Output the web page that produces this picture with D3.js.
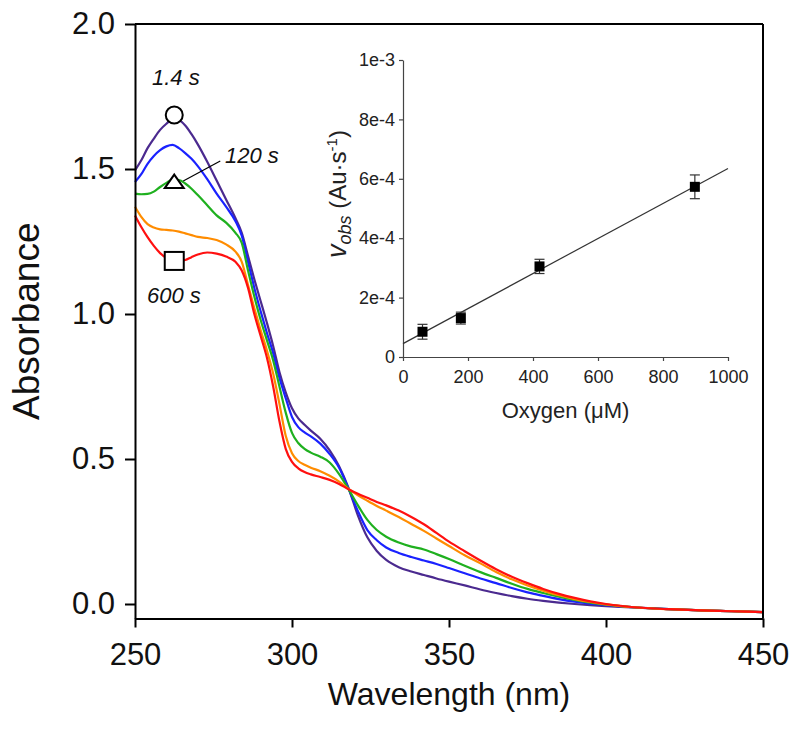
<!DOCTYPE html>
<html><head><meta charset="utf-8">
<script src="https://cdn.jsdelivr.net/npm/d3@7"></script>
<style>
body{margin:0;background:#fff}
svg{display:block}
text{font-family:"Liberation Sans",Arial,Helvetica,sans-serif}
</style>
</head><body>
<svg id="c" width="800" height="735"></svg>
<script>
// ---------- data ----------
const wavelengths = [250,252,254,256,258,260,262,264,266,268,270,273,276,279,282,284,286,288,290,292,294,296,298,300,302,304,306,309,312,315,318,321,324,327,330,334,338,342,346,350,355,360,365,370,375,380,385,390,395,400,410,420,430,440,450];
const abs_1_4s = [1.495,1.53,1.572,1.605,1.635,1.656,1.672,1.668,1.65,1.62,1.585,1.525,1.46,1.395,1.33,1.28,1.2,1.12,1.045,0.97,0.89,0.8,0.73,0.675,0.64,0.618,0.598,0.57,0.53,0.475,0.4,0.305,0.23,0.183,0.152,0.127,0.112,0.1,0.088,0.077,0.064,0.05,0.038,0.027,0.018,0.011,0.005,0.0,-0.004,-0.007,-0.013,-0.018,-0.022,-0.025,-0.028];
const abs_blue = [1.455,1.482,1.518,1.545,1.565,1.578,1.583,1.572,1.555,1.535,1.51,1.465,1.415,1.37,1.32,1.27,1.18,1.09,1.01,0.935,0.865,0.78,0.71,0.645,0.61,0.592,0.578,0.553,0.517,0.47,0.398,0.32,0.255,0.22,0.195,0.176,0.162,0.15,0.138,0.124,0.106,0.088,0.072,0.055,0.04,0.028,0.017,0.008,0.001,-0.004,-0.012,-0.018,-0.022,-0.025,-0.028];
const abs_120s = [1.415,1.413,1.414,1.422,1.438,1.452,1.463,1.462,1.45,1.432,1.41,1.375,1.34,1.315,1.28,1.245,1.15,1.06,0.98,0.91,0.84,0.75,0.66,0.59,0.555,0.535,0.522,0.508,0.488,0.448,0.396,0.34,0.29,0.255,0.232,0.212,0.198,0.188,0.172,0.155,0.132,0.11,0.09,0.07,0.052,0.038,0.025,0.014,0.005,-0.002,-0.012,-0.018,-0.022,-0.025,-0.028];
const abs_orange = [1.37,1.335,1.31,1.298,1.292,1.29,1.288,1.284,1.278,1.272,1.266,1.262,1.255,1.24,1.215,1.18,1.1,1.02,0.945,0.875,0.795,0.69,0.58,0.52,0.493,0.48,0.47,0.458,0.442,0.422,0.397,0.375,0.356,0.338,0.322,0.3,0.276,0.252,0.226,0.2,0.168,0.14,0.11,0.085,0.064,0.046,0.03,0.017,0.007,-0.001,-0.012,-0.018,-0.022,-0.025,-0.028];
const abs_600s = [1.34,1.30,1.265,1.235,1.21,1.193,1.185,1.183,1.186,1.196,1.205,1.212,1.208,1.198,1.18,1.15,1.09,1.0,0.925,0.85,0.75,0.63,0.535,0.49,0.468,0.455,0.447,0.438,0.428,0.414,0.396,0.38,0.366,0.352,0.34,0.322,0.3,0.275,0.245,0.215,0.182,0.15,0.12,0.094,0.072,0.052,0.035,0.021,0.009,0.0,-0.012,-0.018,-0.022,-0.025,-0.028];
const seriesColors = ["#4b2a8f","#1a22ff","#1fb01f","#ff8c00","#ff1010"];

const xTicks = [250,300,350,400,450];
const yTicks = [0,0.5,1.0,1.5,2.0];
const yTickLabels = ["0.0","0.5","1.0","1.5","2.0"];

// annotations (label, marker absorbance at marker wavelength)
const markerWavelength = 262.5;
const markerLabels = ["1.4 s","120 s","600 s"];
const markerAbs = [1.686,1.455,1.183];

// inset
const oxygen = [60,178,420,898];
const vobs = [8.5e-5,1.31e-4,3.05e-4,5.73e-4];
const vobsErr = [2.5e-5,2.0e-5,2.4e-5,4.0e-5];
const fitIntercept = 4.5e-5;
const fitSlope = 5.9e-7;
const insetXTicks = [0,200,400,600,800,1000];
const insetYTicks = [0,2e-4,4e-4,6e-4,8e-4,1e-3];
const insetYTickLabels = ["0","2e-4","4e-4","6e-4","8e-4","1e-3"];

// ---------- chart ----------
const svg = d3.select("#c");
const x = d3.scaleLinear().domain([250,450]).range([135,763]);
const y = d3.scaleLinear().domain([-0.05,2.0]).range([618.5,24]);

const series = [abs_1_4s,abs_blue,abs_120s,abs_orange,abs_600s];
const line = d3.line().x((d,i)=>x(wavelengths[i])).y(d=>y(d)).curve(d3.curveMonotoneX);
svg.append("g").selectAll("path").data(series).join("path")
  .attr("d", d=>line(d)).attr("fill","none")
  .attr("stroke",(d,i)=>seriesColors[i]).attr("stroke-width",2.2)
  .attr("stroke-linejoin","round");

// frame (top & right)
svg.append("line").attr("x1",x(250)).attr("x2",x(450)).attr("y1",y(2.0)).attr("y2",y(2.0)).attr("stroke","#000").attr("stroke-width",2);
svg.append("line").attr("x1",x(450)).attr("x2",x(450)).attr("y1",y(2.0)).attr("y2",y(-0.05)).attr("stroke","#000").attr("stroke-width",2);

const xAxis = svg.append("g").attr("transform",`translate(0,${y(-0.05)})`)
  .call(d3.axisBottom(x).tickValues(xTicks).tickSize(9).tickSizeOuter(0).tickPadding(15.5).tickFormat(d3.format("d")));
const yAxis = svg.append("g").attr("transform",`translate(${x(250)},0)`)
  .call(d3.axisLeft(y).tickValues(yTicks).tickSize(10).tickSizeOuter(0).tickPadding(10).tickFormat((d,i)=>yTickLabels[i]));
[xAxis,yAxis].forEach(g=>{
  g.select(".domain").attr("stroke-width",2);
  g.selectAll(".tick line").attr("stroke-width",2);
  g.selectAll(".tick text").attr("font-size",31).attr("fill","#111").attr("font-family","'Liberation Sans',Arial,sans-serif");
});

svg.append("text").attr("x",(x(250)+x(450))/2).attr("y",705).attr("text-anchor","middle")
  .attr("font-size",32).attr("fill","#111").text("Wavelength (nm)");
svg.append("text").attr("transform",`translate(38.5,${(y(2.0)+y(-0.05))/2}) rotate(-90)`).attr("text-anchor","middle")
  .attr("font-size",37).attr("fill","#111").text("Absorbance");

// markers
const mx = x(markerWavelength);
svg.append("circle").attr("cx",mx).attr("cy",y(markerAbs[0])).attr("r",8.5).attr("fill","#fff").attr("stroke","#000").attr("stroke-width",2);
const ty = y(markerAbs[1]);
svg.append("path").attr("d",`M${mx},${ty-7.5}L${mx+9.5},${ty+6}L${mx-9.5},${ty+6}Z`).attr("fill","#fff").attr("stroke","#000").attr("stroke-width",2);
svg.append("rect").attr("x",mx-9.5).attr("y",y(markerAbs[2])-9).attr("width",19).attr("height",18).attr("fill","#fff").attr("stroke","#000").attr("stroke-width",2);
svg.append("line").attr("x1",mx+9).attr("y1",ty-1).attr("x2",mx+46).attr("y2",ty-21).attr("stroke","#000").attr("stroke-width",1.2);
const annot = [[152,85],[225,163],[147,303]];
svg.append("g").selectAll("text").data(markerLabels).join("text")
  .attr("x",(d,i)=>annot[i][0]).attr("y",(d,i)=>annot[i][1])
  .attr("font-size",22).attr("font-style","italic").attr("fill","#111").text(d=>d);

// ---------- inset ----------
const xi = d3.scaleLinear().domain([0,1000]).range([403,728]);
const yi = d3.scaleLinear().domain([0,1e-3]).range([357,60]);
const ixAxis = svg.append("g").attr("transform",`translate(0,${yi(0)})`)
  .call(d3.axisBottom(xi).tickValues(insetXTicks).tickSize(4).tickSizeOuter(0).tickPadding(9).tickFormat(d3.format("d")));
const iyAxis = svg.append("g").attr("transform",`translate(${xi(0)},0)`)
  .call(d3.axisLeft(yi).tickValues(insetYTicks).tickSize(4).tickSizeOuter(0).tickPadding(4).tickFormat((d,i)=>insetYTickLabels[i]));
[ixAxis,iyAxis].forEach(g=>{
  g.select(".domain").attr("stroke","#444").attr("stroke-width",1.2);
  g.selectAll(".tick line").attr("stroke","#444").attr("stroke-width",1.2);
  g.selectAll(".tick text").attr("font-size",18).attr("fill","#222").attr("font-family","'Liberation Sans',Arial,sans-serif");
});
// fit line
svg.append("line").attr("x1",xi(0)).attr("y1",yi(fitIntercept)).attr("x2",xi(1000)).attr("y2",yi(fitIntercept+fitSlope*1000))
  .attr("stroke","#333").attr("stroke-width",1.2);
// error bars
const eb = svg.append("g").attr("stroke","#333").attr("stroke-width",1.2);
oxygen.forEach((o,i)=>{
  const cx = xi(o), y1 = yi(vobs[i]+vobsErr[i]), y2 = yi(vobs[i]-vobsErr[i]);
  eb.append("line").attr("x1",cx).attr("x2",cx).attr("y1",y1).attr("y2",y2);
  eb.append("line").attr("x1",cx-5).attr("x2",cx+5).attr("y1",y1).attr("y2",y1);
  eb.append("line").attr("x1",cx-5).attr("x2",cx+5).attr("y1",y2).attr("y2",y2);
});
svg.append("g").selectAll("rect").data(oxygen).join("rect")
  .attr("x",d=>xi(d)-5).attr("y",(d,i)=>yi(vobs[i])-5).attr("width",10).attr("height",10).attr("fill","#000");

svg.append("text").attr("x",(xi(0)+xi(1000))/2).attr("y",418).attr("text-anchor","middle")
  .attr("font-size",22).attr("fill","#222").text("Oxygen (\u03BCM)");
const yl = svg.append("text").attr("transform",`translate(346,194) rotate(-90)`).attr("text-anchor","middle")
  .attr("font-size",24).attr("fill","#222");
yl.append("tspan").attr("font-style","italic").attr("font-size",27).text("v");
yl.append("tspan").attr("font-style","italic").attr("font-size",18).attr("dy",5).text("obs");
yl.append("tspan").attr("dy",-5).text(" (Au\u00B7s");
yl.append("tspan").attr("font-size",15).attr("dy",-9).text("-1");
yl.append("tspan").attr("dy",9).text(")");
</script>
</body></html>
